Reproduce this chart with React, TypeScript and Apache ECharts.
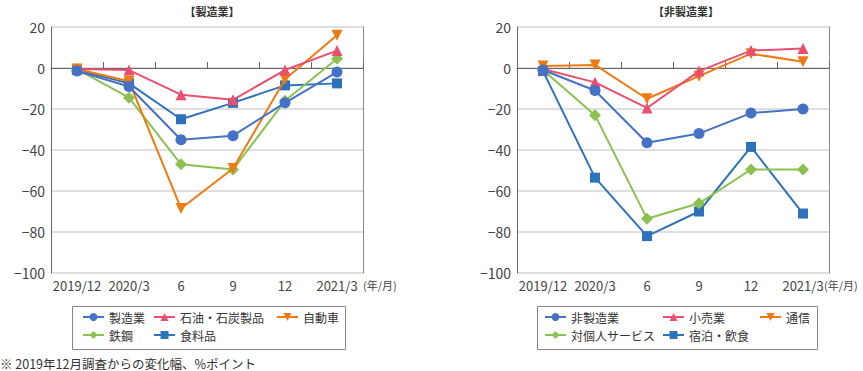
import React, { useEffect, useRef } from "react";
import * as echarts from "echarts";

const categories = ["2019/12", "2020/3", "6", "9", "12", "2021/3"];

// 製造業 panel
const mfgTitle = "【製造業】";
const mfgNames = ["製造業", "石油・石炭製品", "自動車", "鉄鋼", "食料品"];
const mfgAll = [-1.5, -9, -35, -33, -17, -2];
const mfgOil = [-0.5, -1, -13, -15.5, -1, 8.5];
const mfgAuto = [-0.5, -6.5, -68.5, -49, -5.5, 16];
const mfgSteel = [-0.5, -14.5, -47, -49.5, -16, 4.5];
const mfgFood = [-1, -7.5, -25, -17, -8.5, -7.5];

// 非製造業 panel
const nonTitle = "【非製造業】";
const nonNames = ["非製造業", "小売業", "通信", "対個人サービス", "宿泊・飲食"];
const nonAll = [-1, -11, -36.5, -32, -22, -20];
const nonRetail = [-0.5, -7, -19.5, -1.5, 8.5, 9.5];
const nonTelecom = [1, 1.5, -15, -4, 7, 3];
const nonPersonal = [-1, -23, -73.5, -66, -49.5, -49.5];
const nonHotel = [-1.5, -53.5, -82, -70, -38.5, -71];

const footnote = "※ 2019年12月調査からの変化幅、%ポイント";
const unitLabel = "(年/月)";

const FONT = "'Noto Sans CJK JP', 'Noto Sans', sans-serif";
const colors = ["#4472c4", "#e8506e", "#ee7a12", "#8cc152", "#2e72bd"];
const symbols = ["circle", "triangle", "path://M0,0 L10,0 L5,9 Z", "diamond", "rect"];
const symbolSizes = [11, 11, 11, 12, 10];

export default function App() {
  const ref = useRef<HTMLDivElement>(null);
  useEffect(() => {
    if (!ref.current) return;
    const chart = echarts.init(ref.current, null, { renderer: "svg" });

    const grids = [
      { left: 51, top: 27, width: 312, height: 246 },
      { left: 517, top: 27, width: 312, height: 246 },
    ];

    const panels = [
      { names: mfgNames, data: [mfgAll, mfgOil, mfgAuto, mfgSteel, mfgFood] },
      { names: nonNames, data: [nonAll, nonRetail, nonTelecom, nonPersonal, nonHotel] },
    ];

    const xAxis: any[] = [];
    const yAxis: any[] = [];
    const series: any[] = [];
    const legends: any[] = [];

    const legendPos = [
      { cols: [82, 153, 276], rows: [311, 329] },
      { cols: [544, 662, 759], rows: [311, 329] },
    ];

    panels.forEach((p, gi) => {
      xAxis.push({
        type: "category",
        gridIndex: gi,
        data: categories,
        boundaryGap: true,
        axisLine: { lineStyle: { color: "#666", width: 1 } },
        axisTick: { show: true, inside: true, length: 6, lineStyle: { color: "#666" } },
        axisLabel: { color: "#444", fontSize: 13, fontFamily: FONT, margin: 6, interval: 0 },
        splitLine: { show: false },
      });
      yAxis.push({
        type: "value",
        gridIndex: gi,
        min: -100,
        max: 20,
        interval: 20,
        axisLine: { show: true, lineStyle: { color: "#666", width: 1 } },
        axisTick: { show: false },
        axisLabel: {
          color: "#444",
          fontSize: 14,
          fontFamily: FONT,
          margin: 6,
          formatter: (v: number) => (v < 0 ? "−" + Math.abs(v) : String(v)),
        },
        splitLine: { show: true, lineStyle: { color: "#d4d4d4", width: 1.5 } },
      });
      yAxis.push({
        type: "value",
        gridIndex: gi,
        position: "right",
        min: -100,
        max: 20,
        interval: 20,
        axisLine: { show: true, lineStyle: { color: "#888", width: 1 } },
        axisTick: { show: false },
        axisLabel: { show: false },
        splitLine: { show: false },
      });
      p.names.forEach((name, si) => {
        series.push({
          name,
          type: "line",
          xAxisIndex: gi,
          yAxisIndex: gi * 2,
          data: p.data[si],
          symbol: symbols[si],
          symbolSize: symbolSizes[si],
          showSymbol: true,
          color: colors[si],
          lineStyle: { width: 2, color: colors[si] },
          itemStyle: { color: colors[si] },
          z: 10 - si,
        });
        const col = si % 3;
        const row = Math.floor(si / 3);
        legends.push({
          data: [name],
          left: legendPos[gi].cols[col],
          top: legendPos[gi].rows[row],
          itemWidth: 21,
          itemHeight: 10,
          itemGap: 0,
          padding: 0,
          textStyle: {
            color: "#333",
            fontSize: 12,
            lineHeight: 12,
            fontFamily: FONT,
            padding: [0, 0, 0, 0],
          },
          selectedMode: false,
        });
      });
    });

    const option: any = {
      animation: false,
      backgroundColor: "#fff",
      title: [
        {
          text: mfgTitle,
          left: 207,
          top: 0,
          textAlign: "center",
          textStyle: { fontSize: 11, fontWeight: "bold", color: "#333", fontFamily: FONT },
        },
        {
          text: nonTitle,
          left: 681,
          top: 0,
          textAlign: "center",
          textStyle: { fontSize: 11, fontWeight: "bold", color: "#333", fontFamily: FONT },
        },
      ],
      grid: grids,
      xAxis,
      yAxis,
      legend: legends,
      series,
      graphic: [
        {
          type: "rect",
          shape: { x: 72.5, y: 306.5, width: 273, height: 43 },
          style: { fill: "none", stroke: "#888", lineWidth: 1 },
        },
        {
          type: "rect",
          shape: { x: 537.5, y: 306.5, width: 280, height: 43 },
          style: { fill: "none", stroke: "#888", lineWidth: 1 },
        },
        {
          type: "text",
          x: 363,
          y: 285,
          style: { text: unitLabel, fill: "#444", fontSize: 11, fontFamily: FONT, verticalAlign: "middle" },
        },
        {
          type: "text",
          x: 824,
          y: 285,
          style: { text: unitLabel, fill: "#444", fontSize: 11, fontFamily: FONT, verticalAlign: "middle" },
        },
        {
          type: "text",
          x: 0,
          y: 363,
          style: { text: footnote, fill: "#333", fontSize: 12.5, fontFamily: FONT, verticalAlign: "middle" },
        },
      ],
    };
    chart.setOption(option);
    return () => chart.dispose();
  }, []);
  return (
    <div
      ref={ref}
      style={{ position: "absolute", left: 0, top: 0, width: 863, height: 371 }}
    />
  );
}
